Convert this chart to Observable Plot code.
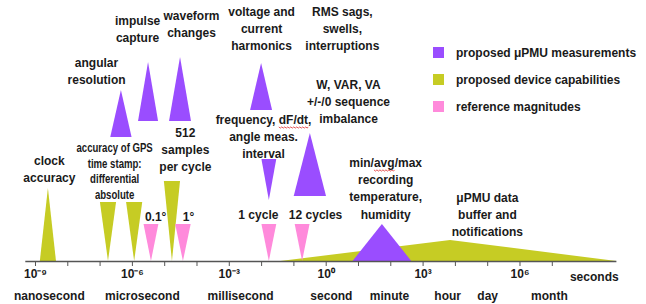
<!DOCTYPE html>
<html><head><meta charset="utf-8">
<script src="https://cdn.jsdelivr.net/npm/d3@7"></script>
<script src="https://cdn.jsdelivr.net/npm/@observablehq/plot@0.6"></script>
<style>
body{margin:0;background:#fff;}
#wrap{position:relative;width:646px;height:304px;font-family:"Liberation Sans",Arial,Helvetica,sans-serif;}
#legend{position:absolute;left:433px;top:39px;font-size:12px;font-weight:bold;color:#1a1a1a;}
#legend .row{display:flex;align-items:center;height:27px;}
#legend .sw{width:11px;height:11px;margin-right:12px;}
</style></head>
<body><div id="wrap"><div id="legend"></div></div>
<script>
// categories
const categories = ["proposed μPMU measurements", "proposed device capabilities", "reference magnitudes"];
const catColors = ["#9a4dff", "#c6cc24", "#ff8adb"];

// triangles: x in log10(seconds), heights in arbitrary level units above the axis
const triCat   = [1,     1,     1,     1,     2,     1,     2,     0,     0,     0,     0,     0,     0,     2,     2,     0];
const triLeft  = [-1.41, -8.85, -6.99, -6.18, -5.64, -5.01, -4.66, -6.67, -5.81, -4.85, -2.34, -1.99, -0.99, -1.99, -0.96, 0.83];
const triApex  = [3.85,  -8.6,  -6.74, -5.93, -5.41, -4.76, -4.42, -6.34, -5.50, -4.51, -2.0,  -1.76, -0.49, -1.76, -0.73, 1.74];
const triRight = [9.0,   -8.35, -6.49, -5.68, -5.18, -4.51, -4.18, -6.01, -5.19, -4.17, -1.66, -1.53, 0.01,  -1.53, -0.50, 2.65];
const triBase  = [0,     0,     59,    59,    37,    80,    37,    124,   140,   140,   151,   102,   65,    37,    37,    0];
const triTip   = [21,    73,    0,     0,     0,     0,     0,     171,   199,   204,   198,   61,    128,   0,     0,     37];

// annotation labels
const labelText = ["impulse\ncapture", "waveform\nchanges", "angular\nresolution", "clock\naccuracy",
  "512\nsamples\nper cycle", "0.1°", "1°", "voltage and\ncurrent\nharmonics", "RMS sags,\nswells,\ninterruptions",
  "W, VAR, VA\n+/-/0 sequence\nimbalance", "frequency, dF/dt,\nangle meas.\ninterval", "1 cycle", "12 cycles",
  "min/avg/max\nrecording\ntemperature,\nhumidity", "μPMU data\nbuffer and\nnotifications"];
const labelX = [-5.84, -4.17, -7.11, -8.57, -4.36, -5.28, -4.26, -2.0, 0.50, 0.69, -1.94, -2.10, -0.33, 1.84, 4.99];
const labelY = [233.5, 238.5, 191.5, 93.5, 113, 46, 46, 234, 234, 161, 125.5, 48, 48, 74, 47.5];
const squiggleWords = ["dF/dt", "avg"];

const gpsText = "accuracy of GPS\ntime stamp:\ndifferential\nabsolute";
const gpsX = [-6.55];
const gpsY = [91];

// axis
const tickValues = d3.range(-9, 8);
const unitNames = ["nanosecond", "microsecond", "millisecond", "second", "minute", "hour", "day", "month"];
const unitX = [-8.57, -5.69, -2.65, 0.16, 1.96, 3.76, 5.0, 6.91];
const unitY = -35;
const axisUnit = "seconds";
const axisUnitX = 8.3;

const sup = {"-":"⁻","0":"⁰","1":"¹","2":"²","3":"³","4":"⁴","5":"⁵","6":"⁶","7":"⁷","8":"⁸","9":"⁹"};
const fmt = d => d % 3 === 0 ? "10" + String(d).split("").map(c => sup[c]).join("") : "";

const pts = triCat.flatMap((c, i) => [
  {id: i, cat: categories[c], x: triLeft[i], b: triBase[i], y: triBase[i]},
  {id: i, cat: categories[c], x: triApex[i], b: triBase[i], y: triTip[i]},
  {id: i, cat: categories[c], x: triRight[i], b: triBase[i], y: triBase[i]}
]);
const labels = labelText.map((t, i) => ({t, x: labelX[i], y: labelY[i]}));
const units = unitNames.map((t, i) => ({t, x: unitX[i], y: unitY}));

const chart = Plot.plot({
  width: 646, height: 304,
  marginLeft: 25.3, marginRight: 29.6, marginTop: 0, marginBottom: 43,
  x: {domain: [-9.3, 9]},
  y: {domain: [0, 261], axis: null},
  color: {domain: categories, range: catColors},
  style: {fontFamily: "Liberation Sans, Arial, Helvetica, sans-serif", fontWeight: "bold", color: "#1a1a1a", background: "transparent"},
  marks: [
    Plot.areaY(pts, {x: "x", y1: "b", y2: "y", z: "id", fill: "cat"}),
    Plot.ruleY([0], {stroke: "#555", strokeWidth: 1.5}),
    Plot.axisX({ticks: tickValues, tickFormat: fmt, tickSize: 5, tickPadding: 3, fontSize: 12, fontWeight: "bold", stroke: "#555", fill: "#1a1a1a", label: null}),
    Plot.text([axisUnit], {x: () => axisUnitX, y: () => -16, text: d => d, fontSize: 12, fontWeight: "bold", fill: "#1a1a1a"}),
    Plot.text(units, {x: "x", y: "y", text: "t", fontSize: 12, fontWeight: "bold", fill: "#1a1a1a"}),
    Plot.text(labels, {x: "x", y: "y", text: "t", fontSize: 12, fontWeight: "bold", lineHeight: 1.42, fill: "#1a1a1a", className: "ann"}),
    Plot.text([gpsText], {x: () => gpsX[0], y: () => gpsY[0], text: d => d, fontSize: 12, fontWeight: "bold", lineHeight: 1.3, fill: "#1a1a1a", className: "gps"})
  ]
});
document.getElementById("wrap").prepend(chart);
chart.style.position = "absolute"; chart.style.left = "0"; chart.style.top = "0";

// condensed look for the GPS annotation
d3.select(chart).selectAll(".gps text").each(function() {
  const t = d3.select(this);
  t.attr("transform", (t.attr("transform") || "") + " scale(0.8,1)");
});
// red spell-check squiggles
d3.select(chart).selectAll(".ann tspan").each(function() {
  const s = this.textContent;
  const w = squiggleWords.find(w => s.includes(w));
  if (!w) return;
  const [a, b] = s.split(w);
  const el = d3.select(this);
  el.text(null);
  el.append("tspan").text(a);
  const sq = el.append("tspan").text(w).node();
  el.append("tspan").text(b);
  const textEl = this.closest("text");
  const p0 = sq.getStartPositionOfChar(0);
  const p1 = sq.getEndPositionOfChar(sq.getNumberOfChars() - 1);
  const yb = p0.y + 2.5;
  let d = `M${p0.x},${yb}`;
  for (let x = p0.x, k = 0; x < p1.x; x += 1.5, k++) d += `L${Math.min(x + 1.5, p1.x)},${yb + (k % 2 ? 0 : 1.2)}`;
  d3.select(textEl.parentNode).append("path")
    .attr("transform", textEl.getAttribute("transform"))
    .attr("d", d).attr("fill", "none").attr("stroke", "#e03030").attr("stroke-width", 0.8);
});

const lg = d3.select("#legend");
categories.forEach((c, i) => {
  const r = lg.append("div").attr("class", "row");
  r.append("div").attr("class", "sw").style("background", catColors[i]);
  r.append("span").text(c);
});
</script></body></html>
